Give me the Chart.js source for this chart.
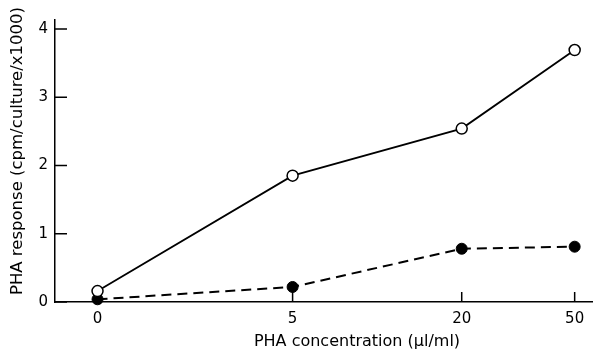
<!DOCTYPE html>
<html>
<head>
<meta charset="utf-8">
<script src="https://cdn.jsdelivr.net/npm/chart.js@4.4.0/dist/chart.umd.min.js"></script>
<style>
  html, body { margin: 0; padding: 0; background: #fff; }
</style>
</head>
<body>
<canvas id="myChart" width="593" height="352"></canvas>
<script>
'use strict';
// PHA concentration categories (ul/ml) and where they sit along the drawn axis
let doses = ['0', '5', '20', '50'];
let xPos = [0, 1, 1.867, 2.446];
// PHA response, cpm/culture/x1000
let openVals = [0.16, 1.85, 2.54, 3.69];
let filledVals = [0.04, 0.22, 0.78, 0.81];
let yTicks = [0, 1, 2, 3, 4];

let fontFam = '"DejaVu Sans", sans-serif';

// tick marks point into the plot, like the original figure
let inwardTicks = {
  id: 'inwardTicks',
  beforeDatasetsDraw(chart) {
    let ctx = chart.ctx;
    let xs = chart.scales.x;
    let ys = chart.scales.y;
    ctx.save();
    ctx.strokeStyle = '#000';
    ctx.lineWidth = 1.5;
    ctx.beginPath();
    for (let i = 0; i < ys.ticks.length; i++) {
      let py = ys.getPixelForValue(ys.ticks[i].value);
      ctx.moveTo(ys.right, py);
      ctx.lineTo(ys.right + 12, py);
    }
    for (let i = 0; i < xs.ticks.length; i++) {
      let px = xs.getPixelForValue(xs.ticks[i].value);
      ctx.moveTo(px, xs.top);
      ctx.lineTo(px, xs.top - 10);
    }
    ctx.stroke();
    ctx.restore();
  }
};

// axis titles placed where the figure has them
let axisTitles = {
  id: 'axisTitles',
  afterDraw(chart) {
    let ctx = chart.ctx;
    ctx.save();
    ctx.fillStyle = '#000';
    ctx.font = '16px ' + fontFam;
    ctx.textAlign = 'center';
    ctx.textBaseline = 'middle';
    ctx.fillText('PHA concentration (\u03bcl/ml)', 357, 342);
    ctx.translate(18, 151);
    ctx.rotate(-Math.PI / 2);
    ctx.font = '16.5px ' + fontFam;
    ctx.fillText('PHA response (cpm/culture/x1000)', 0, 0);
    ctx.restore();
  }
};

let ctx = document.getElementById('myChart').getContext('2d');
let myChart = new Chart(ctx, {
  type: 'line',
  data: {
    datasets: [{
      label: 'open',
      data: xPos.map((x, i) => ({ x: x, y: openVals[i] })),
      borderColor: '#000',
      borderWidth: 1.8,
      backgroundColor: '#fff',
      pointBackgroundColor: '#fff',
      pointBorderColor: '#000',
      pointBorderWidth: 1.5,
      pointRadius: 5.5,
      tension: 0,
      clip: false
    },
    {
      label: 'filled',
      data: xPos.map((x, i) => ({ x: x, y: filledVals[i] })),
      borderColor: '#000',
      borderWidth: 2,
      borderDash: [10, 6],
      backgroundColor: '#000',
      pointBackgroundColor: '#000',
      pointBorderColor: '#000',
      pointBorderWidth: 1,
      pointRadius: 5.5,
      tension: 0,
      clip: false
    }]
  },
  options: {
    responsive: false,
    animation: false,
    layout: { autoPadding: false, padding: { top: 20, right: 0, left: 0, bottom: 0 } },
    plugins: {
      legend: { display: false },
      tooltip: { enabled: false }
    },
    scales: {
      x: {
        type: 'linear',
        min: -0.218,
        max: 2.54,
        afterBuildTicks: (scale) => {
          scale.ticks = xPos.map(v => ({ value: v }));
        },
        afterFit: (scale) => {
          scale.height = 50;
          scale.paddingRight = 0;
          scale.paddingLeft = 0;
        },
        ticks: {
          color: '#000',
          padding: 8,
          maxRotation: 0,
          font: { family: fontFam, size: 15 },
          callback: (value, index) => doses[index]
        },
        grid: { display: false, drawTicks: false },
        border: { display: true, color: '#000', width: 1.5 }
      },
      y: {
        type: 'linear',
        min: 0,
        max: 4.13,
        afterBuildTicks: (scale) => {
          scale.ticks = yTicks.map(v => ({ value: v }));
        },
        afterFit: (scale) => { scale.width = 55; },
        ticks: {
          color: '#000',
          padding: 7,
          font: { family: fontFam, size: 15 },
          callback: (value) => String(value)
        },
        grid: { display: false, drawTicks: false },
        border: { display: true, color: '#000', width: 1.5 }
      }
    }
  },
  plugins: [inwardTicks, axisTitles]
});
</script>
</body>
</html>
